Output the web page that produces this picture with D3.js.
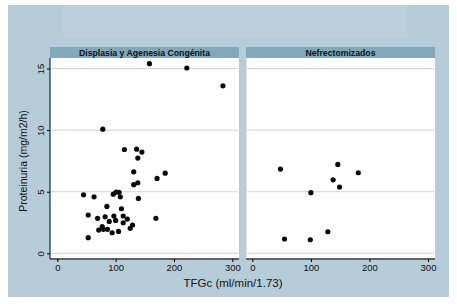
<!DOCTYPE html>
<html>
<head>
<meta charset="utf-8">
<script src="https://cdn.jsdelivr.net/npm/d3@7"></script>
<style>
  body { margin: 0; background: #fff; }
  svg { display: block; font-family: "Liberation Sans", Arial, sans-serif; }
</style>
</head>
<body>
<div id="my_dataviz"></div>
<script>
// panels
var panelNames = ["Displasia y Agenesia Congénita", "Nefrectomizados"];

// Displasia y Agenesia Congénita: TFGc, proteinuria
var displasiaX = [158, 222, 284, 78, 115, 136, 145, 138, 131, 185, 171, 138, 131, 45, 63, 96, 101, 106, 108, 139, 85, 110, 53, 69, 82, 97, 113, 120, 89, 100, 113, 169, 129, 125, 77, 71, 79, 86, 94, 105, 53];
var displasiaY = [15.4, 15.05, 13.6, 10.08, 8.43, 8.46, 8.22, 7.73, 6.62, 6.51, 6.08, 5.73, 5.57, 4.75, 4.59, 4.8, 4.97, 4.95, 4.59, 4.46, 3.81, 3.62, 3.11, 2.84, 2.97, 3.03, 3.03, 2.78, 2.59, 2.67, 2.48, 2.84, 2.3, 2.03, 2.16, 1.89, 1.95, 1.95, 1.67, 1.78, 1.27];

// Nefrectomizados
var nefroX = [48, 146, 181, 138, 149, 100, 129, 55, 99];
var nefroY = [6.84, 7.22, 6.54, 5.97, 5.38, 4.92, 1.75, 1.16, 1.1];

var xTicks = [0, 100, 200, 300];
var yTicks = [0, 5, 10, 15];

var W = 457, H = 304;
var svg = d3.select("#my_dataviz").append("svg")
  .attr("width", W).attr("height", H);

// outer background
svg.append("rect").attr("x", 8).attr("y", 5).attr("width", 441).attr("height", 292)
  .attr("fill", "#b6ccd8");
// faint empty title band
svg.append("rect").attr("x", 63).attr("y", 5).attr("width", 344).attr("height", 33)
  .attr("fill", "#bccfdb");

var panels = [
  {name: panelNames[0], xs: displasiaX, ys: displasiaY, left: 50, right: 239, x0: 57.3, x300: 232.3},
  {name: panelNames[1], xs: nefroX, ys: nefroY, left: 246, right: 435, x0: 252.3, x300: 428}
];

var plotTop = 58, plotBottom = 258;
var y = d3.scaleLinear().domain([0, 15]).range([253.3, 68.6]);

panels.forEach(function(p, i) {
  var x = d3.scaleLinear().domain([0, 300]).range([p.x0, p.x300]);

  // header strip
  svg.append("rect").attr("x", p.left).attr("y", 47).attr("width", p.right - p.left).attr("height", 11)
    .attr("fill", "#82a8ba");
  svg.append("text").attr("x", (p.left + p.right) / 2).attr("y", 55.7)
    .attr("text-anchor", "middle").attr("font-size", 8.7).attr("font-weight", "bold")
    .attr("fill", "#111").text(p.name);

  // plot region
  svg.append("rect").attr("x", p.left).attr("y", plotTop).attr("width", p.right - p.left).attr("height", plotBottom - plotTop)
    .attr("fill", "#fff");

  // grid
  svg.append("g").selectAll("line").data(yTicks).join("line")
    .attr("x1", p.left + 1).attr("x2", p.right - 1)
    .attr("y1", function(d) { return y(d); }).attr("y2", function(d) { return y(d); })
    .attr("stroke", "#cfd3d6").attr("stroke-width", 1);

  // x axis
  var gx = svg.append("g").attr("transform", "translate(0," + (plotBottom + 1) + ")")
    .call(d3.axisBottom(x).tickValues(xTicks).tickSize(3).tickPadding(2));
  gx.select(".domain").attr("d", "M" + (p.left) + ",0H" + (p.right));
  gx.selectAll("text").attr("font-size", 9.5).attr("fill", "#111")
    .attr("font-family", "'Liberation Sans', Arial, sans-serif");

  // y axis only on first panel
  if (i === 0) {
    var gy = svg.append("g").attr("transform", "translate(" + p.left + ",0)")
      .call(d3.axisLeft(y).tickValues(yTicks).tickSize(3).tickPadding(2));
    gy.select(".domain").attr("d", "M0," + plotTop + "V" + (plotBottom + 1));
    gy.selectAll(".tick text")
      .attr("font-size", 9.5).attr("fill", "#111")
      .attr("font-family", "'Liberation Sans', Arial, sans-serif")
      .attr("text-anchor", "middle").attr("dy", null)
      .attr("x", null)
      .attr("transform", "translate(-9,0) rotate(-90)")
      .attr("y", 3);
  } else {
    svg.append("line").attr("x1", p.left + 0.5).attr("x2", p.left + 0.5)
      .attr("y1", plotTop).attr("y2", plotBottom).attr("stroke", "#dde3e7");
  }

  // points
  svg.append("g").selectAll("circle").data(p.xs).join("circle")
    .attr("cx", function(d) { return x(d); })
    .attr("cy", function(d, j) { return y(p.ys[j]); })
    .attr("r", 2.6)
    .attr("fill", "#0a0a0a");
});

// axis titles
svg.append("text").attr("x", 233).attr("y", 287)
  .attr("text-anchor", "middle").attr("font-size", 11.5).attr("fill", "#111")
  .text("TFGc (ml/min/1.73)");
svg.append("text").attr("transform", "translate(27,161) rotate(-90)")
  .attr("text-anchor", "middle").attr("font-size", 10.5).attr("fill", "#111")
  .text("Proteinuria (mg/m2/h)");
</script>
</body>
</html>
